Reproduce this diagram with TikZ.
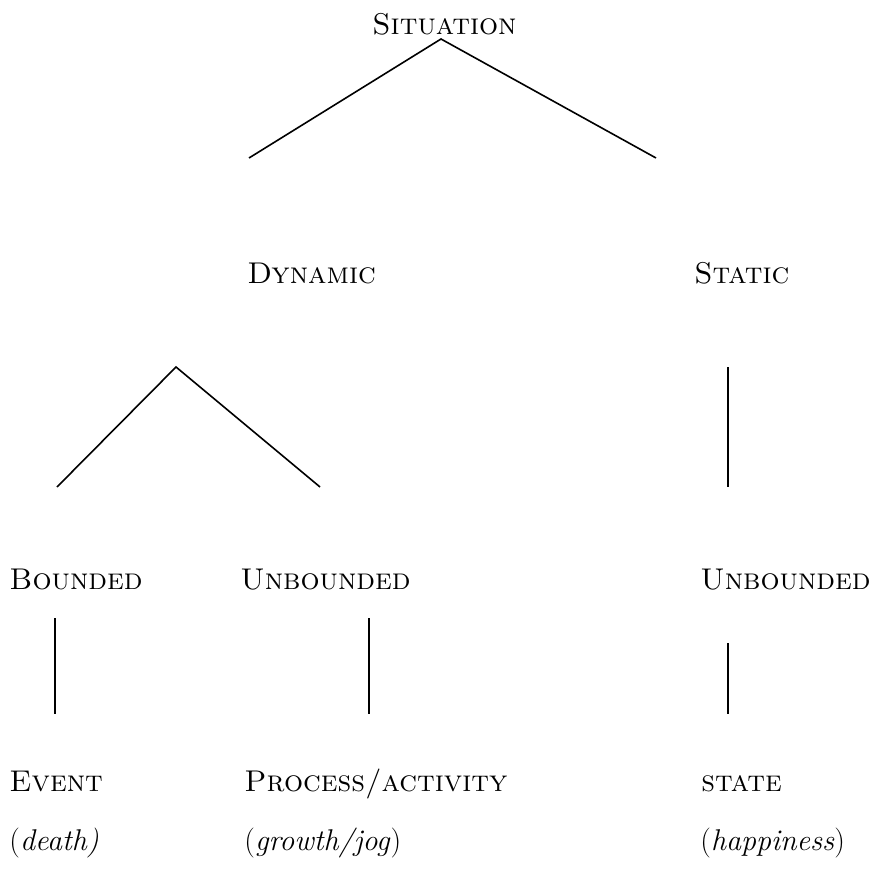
\documentclass[tikz,border=0pt]{standalone}
\begin{document}
\begin{tikzpicture}[x=0.5pt,y=-0.5pt,
  cat/.style={anchor=base west, inner sep=0pt, font=\fontsize{15}{18}\selectfont},
  branch/.style={line width=0.8pt}]
\useasboundingbox (0,0) rectangle (880,881);
% categories
\node[cat] (sit) at (372,35) {\textsc{Situation}};
\node[cat] (dyn) at (247,284) {\textsc{Dynamic}};
\node[cat] (sta) at (694,284) {\textsc{Static}};
\node[cat] (bnd) at (9,589) {\textsc{Bounded}};
\node[cat] (unb) at (240,589) {\textsc{Unbounded}};
\node[cat] (unbs) at (700,589) {\textsc{Unbounded}};
\node[cat] (evt) at (9,791) {\textsc{Event}};
\node[cat] (proc) at (244,791) {\textsc{Process/activity}};
\node[cat] (st) at (701,791) {\textsc{state}};
% examples
\node[cat] (exevt) at (9,850) {(\textit{death)}};
\node[cat] (exproc) at (244,850) {(\textit{growth/jog})};
\node[cat] (exst) at (700,850) {(\textit{happiness})};
% branch ends
\coordinate (sitT) at (441,39);
\coordinate (sitL) at (249,158);
\coordinate (sitR) at (656,158);
\coordinate (dynT) at (176,367);
\coordinate (dynL) at (57,487);
\coordinate (dynR) at (320,487);
\coordinate (staT) at (728,367);
\coordinate (staB) at (728,487);
\coordinate (bndT) at (55,618);
\coordinate (bndB) at (55,714);
\coordinate (unbT) at (369,618);
\coordinate (unbB) at (369,714);
\coordinate (unbsT) at (728,643);
\coordinate (unbsB) at (728,714);
\draw[branch] (sitL) -- (sitT) -- (sitR);
\draw[branch] (dynL) -- (dynT) -- (dynR);
\draw[branch] (staT) -- (staB);
\draw[branch] (bndT) -- (bndB);
\draw[branch] (unbT) -- (unbB);
\draw[branch] (unbsT) -- (unbsB);
\end{tikzpicture}
\end{document}
